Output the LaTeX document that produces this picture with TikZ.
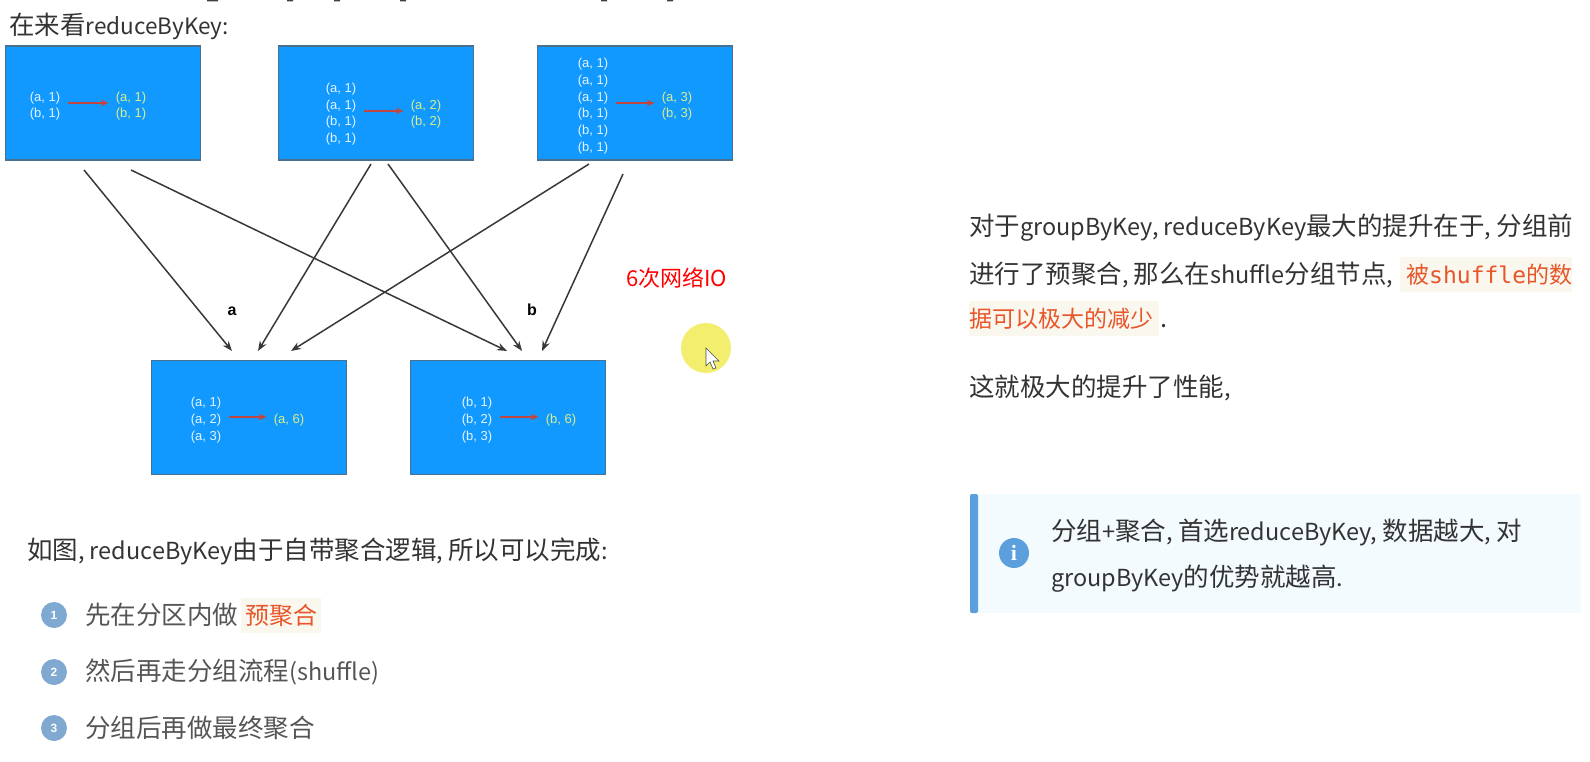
\documentclass[tikz,border=0pt]{standalone}
\usepackage{fontspec}
\setmainfont{Noto Sans CJK SC}
\newfontfamily\latfont[Scale=0.92]{Noto Sans CJK SC}
\newfontfamily\boxfont{Liberation Sans}
\newfontfamily\iconfont{Liberation Serif}
\newfontfamily\codefont{DejaVu Sans Mono}
\newcommand{\lat}[1]{{\latfont #1}}
\usetikzlibrary{arrows.meta,positioning,calc}
\definecolor{boxblue}{HTML}{1199FF}
\definecolor{boxedge}{HTML}{4A7090}
\definecolor{sumgreen}{HTML}{D9EE8A}
\definecolor{inwhite}{HTML}{E6F4FF}
\definecolor{arrowred}{HTML}{C2453F}
\definecolor{bodygray}{HTML}{333333}
\definecolor{stepgray}{HTML}{555555}
\definecolor{codeorange}{HTML}{E8562A}
\definecolor{codebg}{HTML}{F9F7EE}
\definecolor{badgeblue}{HTML}{7FA9D0}
\definecolor{notebg}{HTML}{F3FBFF}
\definecolor{notebar}{HTML}{5B9FDC}
\definecolor{pointeryellow}{HTML}{F4EE6E}
\tikzset{
  partbox/.style={draw=boxedge,line width=1.4pt,fill=boxblue,minimum width=195pt,minimum height=114pt,inner sep=0pt},
  inlabel/.style={text=inwhite,inner sep=0pt,align=center,font=\boxfont\fontsize{13}{16.7}\selectfont},
  outlabel/.style={text=sumgreen,inner sep=0pt,align=center,font=\boxfont\fontsize{13}{16.7}\selectfont},
  sumarrow/.style={arrowred,line width=1.5pt,-{Stealth[length=8pt,width=6.5pt]},shorten <=8pt,shorten >=7pt},
  netarrow/.style={black!78,line width=1.5pt,-{Stealth[length=10pt,width=7.5pt]}},
  body/.style={anchor=base west,inner sep=0pt,text=bodygray,font=\fontsize{25.5}{28}\selectfont},
  steptext/.style={body,text=stepgray},
  codetag/.style={anchor=base west,inner xsep=0pt,inner ysep=0pt,text=codeorange,fill=codebg,text height=26pt,text depth=9pt,font=\fontsize{23}{28}\selectfont},
  badge/.style={circle,fill=badgeblue,text=white,minimum size=26pt,inner sep=0pt,font=\boxfont\bfseries\fontsize{12}{14}\selectfont}
}
\begin{document}
\begin{tikzpicture}[x=1pt,y=-1pt]
\useasboundingbox (0,0) rectangle (1590,762);

% cut-off heading at the top edge
\fill[black!75] (207,0) rectangle (218,1.5) (287,0) rectangle (293,1.5) (334,0) rectangle (340,1.5)
  (400,0) rectangle (406,1.5) (601,0) rectangle (607,1.5) (667,0) rectangle (673,1.5);

% three map partitions
\node[partbox] (part1) at (103,103){};
\node[partbox] (part2) at (376,103){};
\node[partbox] (part3) at (635,103){};

\node[inlabel] (in1) at (45,106){(a, 1)\\(b, 1)};
\node[outlabel] (out1) at (131,106){(a, 1)\\(b, 1)};
\draw[sumarrow] ([yshift=3pt]in1.east)--([yshift=3pt]out1.west);

\node[inlabel] (in2) at (341,114){(a, 1)\\(a, 1)\\(b, 1)\\(b, 1)};
\node[outlabel] (out2) at (426,114){(a, 2)\\(b, 2)};
\draw[sumarrow] ([yshift=3pt]in2.east)--([yshift=3pt]out2.west);

\node[inlabel] (in3) at (593,106){(a, 1)\\(a, 1)\\(a, 1)\\(b, 1)\\(b, 1)\\(b, 1)};
\node[outlabel] (out3) at (677,106){(a, 3)\\(b, 3)};
\draw[sumarrow] ([yshift=3pt]in3.east)--([yshift=3pt]out3.west);

% two reduce partitions
\node[partbox] (parta) at (249,417.5){};
\node[partbox] (partb) at (508,417.5){};

\node[inlabel] (ina) at (206,420){(a, 1)\\(a, 2)\\(a, 3)};
\node[outlabel] (outa) at (289,420){(a, 6)};
\draw[sumarrow] ([yshift=3pt]ina.east)--([yshift=3pt]outa.west);

\node[inlabel] (inb) at (477,420){(b, 1)\\(b, 2)\\(b, 3)};
\node[outlabel] (outb) at (561,420){(b, 6)};
\draw[sumarrow] ([yshift=3pt]inb.east)--([yshift=3pt]outb.west);

% shuffle arrows stop short of the boxes
\coordinate (from1a) at (84,170);
\coordinate (from1b) at (131,170);
\coordinate (from2a) at (371,164);
\coordinate (from2b) at (388,164);
\coordinate (from3a) at (589,164);
\coordinate (from3b) at (623,174);
\coordinate (to1a) at (232,351);
\coordinate (to2a) at (258,351);
\coordinate (to3a) at (291,351);
\coordinate (to1b) at (507,351);
\coordinate (to2b) at (522,351);
\coordinate (to3b) at (542,351);

\draw[netarrow] (from1a)--(to1a);
\draw[netarrow] (from1b)--(to1b);
\draw[netarrow] (from2a)--(to2a);
\draw[netarrow] (from2b)--(to2b);
\draw[netarrow] (from3a)--(to3a);
\draw[netarrow] (from3b)--(to3b);

\node[font=\boxfont\bfseries\fontsize{16}{18}\selectfont] (keya) at (232,311){a};
\node[font=\boxfont\bfseries\fontsize{16}{18}\selectfont] (keyb) at (532,310){b};
\node[text=red,inner sep=0pt,anchor=base west,font=\fontsize{22}{24}\selectfont] (ionote) at (626,286){6次网络IO};

% pointer
\fill[pointeryellow] (706,348) circle (25);
\draw[fill=white,line width=0.6pt,draw=black!70] (706,348)--(706,366)--(710,362)--(713,369)--(716,368)--(713,361)--(719,361)--cycle;

% left column
\node[body] (title) at (9,35){在来看{\fontsize{24.5}{28}\selectfont\lat{reduceByKey:}}};
\node[body] (lead) at (27,559){如图\lat{, reduceByKey}由于自带聚合逻辑\lat{, }所以可以完成\lat{:}};

\node[badge] (num1) at (54,615){1};
\node[steptext,right=18pt of num1.east,anchor=west] (step1) {先在分区内做};
\node[codetag,font=\fontsize{24}{28}\selectfont] (tag1) at (241,624){\hspace*{4pt}预聚合\hspace*{4pt}};
\node[badge] (num2) at (54,672){2};
\node[steptext,right=18pt of num2.east,anchor=west] (step2) {然后再走分组流程\lat{(shuffle)}};
\node[badge] (num3) at (54,728){3};
\node[steptext,right=18pt of num3.east,anchor=west] (step3) {分组后再做最终聚合};

% right column
\node[body] (para1) at (969,236){对于\lat{groupByKey, reduceByKey}最大的提升在于\lat{, }分组前};
\node[body] (para2) at (969,283){进行了预聚合\lat{, }那么在\lat{shuffle}分组节点\lat{,}};
\node[codetag] (tag2) at (1400,283){\hspace*{6pt}被{\codefont shuffle}的数};
\node[codetag] (tag3) at (969,327){据可以极大的减少\hspace*{6pt}};
\node[body] (para3) at (1160,327){.};
\node[body] (para4) at (969,396){这就极大的提升了性能\lat{,}};

% note box
\fill[notebg] (970,494) rectangle (1581,613);
\fill[notebar,rounded corners=2pt] (970,494) rectangle (978,613);
\node[circle,fill=notebar,text=white,minimum size=30pt,inner sep=0pt,font=\iconfont\bfseries\fontsize{22}{22}\selectfont] (infoicon) at (1014,553){i};
\node[body] (note1) at (1051,540){分组\lat{+}聚合\lat{, }首选\lat{reduceByKey, }数据越大\lat{, }对};
\node[body] (note2) at (1051,586){\lat{groupByKey}的优势就越高\lat{.}};
\end{tikzpicture}
\end{document}
